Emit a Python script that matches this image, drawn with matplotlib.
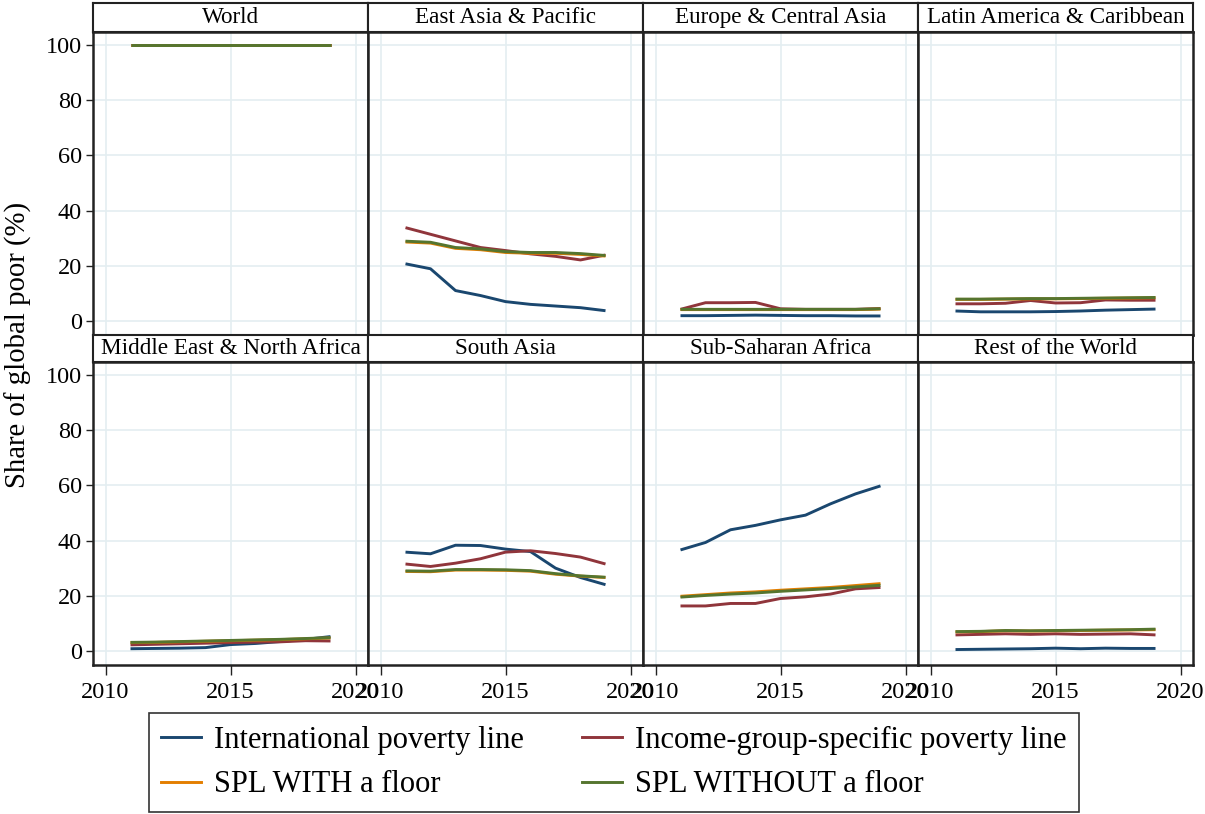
import matplotlib
matplotlib.use("Agg")
import matplotlib.pyplot as plt
from matplotlib.lines import Line2D

plt.rcParams['font.family'] = ['Liberation Serif', 'DejaVu Serif']

years = [2011, 2012, 2013, 2014, 2015, 2016, 2017, 2018, 2019]

regions = ["World", "East Asia & Pacific", "Europe & Central Asia",
           "Latin America & Caribbean", "Middle East & North Africa",
           "South Asia", "Sub-Saharan Africa", "Rest of the World"]

# share of global poor (%) by region, one list per poverty line
ipl = {
    "World": [100, 100, 100, 100, 100, 100, 100, 100, 100],
    "East Asia & Pacific": [20.7, 18.9, 11.0, 9.2, 7.0, 6.0, 5.4, 4.8, 3.7],
    "Europe & Central Asia": [1.9, 1.9, 2.0, 2.1, 2.0, 1.9, 1.9, 1.8, 1.8],
    "Latin America & Caribbean": [3.6, 3.3, 3.3, 3.3, 3.4, 3.6, 3.9, 4.1, 4.3],
    "Middle East & North Africa": [0.8, 0.9, 1.0, 1.2, 2.3, 2.7, 3.4, 4.2, 5.2],
    "South Asia": [35.8, 35.2, 38.3, 38.2, 36.9, 36.0, 30.0, 26.6, 24.0],
    "Sub-Saharan Africa": [36.6, 39.3, 43.9, 45.5, 47.5, 49.2, 53.3, 56.9, 59.8],
    "Rest of the World": [0.5, 0.6, 0.7, 0.8, 1.0, 0.8, 1.0, 0.9, 0.9],
}
igspl = {
    "World": [100, 100, 100, 100, 100, 100, 100, 100, 100],
    "East Asia & Pacific": [33.8, 31.4, 29.0, 26.6, 25.5, 24.3, 23.4, 22.1, 23.9],
    "Europe & Central Asia": [4.2, 6.6, 6.6, 6.7, 4.4, 4.2, 4.2, 4.2, 4.5],
    "Latin America & Caribbean": [6.2, 6.2, 6.4, 7.4, 6.5, 6.6, 7.6, 7.5, 7.5],
    "Middle East & North Africa": [2.2, 2.4, 2.6, 2.8, 3.0, 3.2, 3.3, 3.7, 3.6],
    "South Asia": [31.5, 30.6, 31.8, 33.4, 35.8, 36.3, 35.3, 34.0, 31.5],
    "Sub-Saharan Africa": [16.3, 16.3, 17.2, 17.2, 19.0, 19.6, 20.6, 22.5, 23.0],
    "Rest of the World": [5.8, 6.0, 6.2, 6.0, 6.2, 6.0, 6.1, 6.2, 5.8],
}
spl_floor = {
    "World": [100, 100, 100, 100, 100, 100, 100, 100, 100],
    "East Asia & Pacific": [28.6, 28.2, 26.3, 25.8, 24.8, 24.5, 24.5, 24.1, 23.5],
    "Europe & Central Asia": [4.1, 4.1, 4.1, 4.1, 4.1, 4.1, 4.1, 4.1, 4.3],
    "Latin America & Caribbean": [7.8, 7.8, 7.9, 8.0, 8.0, 8.1, 8.2, 8.3, 8.4],
    "Middle East & North Africa": [3.0, 3.1, 3.3, 3.5, 3.7, 3.9, 4.1, 4.4, 4.7],
    "South Asia": [28.8, 28.7, 29.3, 29.3, 29.2, 28.9, 27.8, 27.1, 26.6],
    "Sub-Saharan Africa": [19.8, 20.4, 21.0, 21.4, 22.0, 22.5, 23.0, 23.7, 24.4],
    "Rest of the World": [6.9, 7.0, 7.3, 7.2, 7.3, 7.4, 7.5, 7.6, 7.7],
}
spl_nofloor = {
    "World": [100, 100, 100, 100, 100, 100, 100, 100, 100],
    "East Asia & Pacific": [28.9, 28.5, 26.6, 26.1, 25.1, 24.8, 24.8, 24.4, 23.7],
    "Europe & Central Asia": [4.2, 4.2, 4.2, 4.2, 4.2, 4.2, 4.2, 4.2, 4.4],
    "Latin America & Caribbean": [7.9, 7.9, 8.0, 8.1, 8.1, 8.2, 8.3, 8.4, 8.5],
    "Middle East & North Africa": [3.1, 3.2, 3.4, 3.6, 3.8, 4.0, 4.2, 4.5, 4.8],
    "South Asia": [29.0, 28.9, 29.5, 29.5, 29.4, 29.1, 28.0, 27.2, 26.7],
    "Sub-Saharan Africa": [19.5, 20.1, 20.6, 21.0, 21.6, 22.1, 22.6, 23.2, 23.8],
    "Rest of the World": [7.0, 7.1, 7.4, 7.3, 7.4, 7.5, 7.6, 7.7, 7.9],
}

series = [
    ("International poverty line", ipl, "#1a476f"),
    ("Income-group-specific poverty line", igspl, "#90353b"),
    ("SPL WITH a floor", spl_floor, "#e37e00"),
    ("SPL WITHOUT a floor", spl_nofloor, "#55752f"),
]

W, H = 1205, 814
fig = plt.figure(figsize=(W / 100, H / 100), dpi=100)


def box(x0, y0, x1, y1):
    # pixel box (top-left origin) -> figure fraction rect
    return [x0 / W, 1 - y1 / H, (x1 - x0) / W, (y1 - y0) / H]


col_x = [93, 368, 643, 918, 1193]
rows = [(3, 32, 335), (335, 362, 665)]
frame = "#222222"

for i, reg in enumerate(regions):
    r, c = divmod(i, 4)
    s_top, p_top, p_bot = rows[r]
    x0, x1 = col_x[c], col_x[c + 1]

    # strip with the region name
    sax = fig.add_axes(box(x0, s_top, x1, p_top))
    sax.set_xticks([])
    sax.set_yticks([])
    for sp in sax.spines.values():
        sp.set_color(frame)
        sp.set_linewidth(1.5)
    sax.text(0.5, 0.5, reg, ha="center", va="center", fontsize=16.7,
             transform=sax.transAxes)

    ax = fig.add_axes(box(x0, p_top, x1, p_bot))
    for name, data, color in series:
        ax.plot(years, data[reg], color=color, lw=2.1, solid_capstyle="butt")

    ax.set_xlim(2009.5, 2020.5)
    ax.set_ylim(-5.1, 104.7)
    ax.set_xticks([2010, 2015, 2020])
    ax.set_yticks([0, 20, 40, 60, 80, 100])
    ax.grid(True, color="#e4eef1", lw=1.2)
    ax.set_axisbelow(True)
    for sp in ax.spines.values():
        sp.set_color(frame)
        sp.set_linewidth(1.8)

    ax.tick_params(axis="y", direction="out", length=5, width=1,
                   labelsize=17.5, pad=3, colors=frame, labelcolor="black",
                   left=(c == 0), labelleft=(c == 0))
    ax.tick_params(axis="x", direction="out", length=7, width=1,
                   labelsize=17.5, pad=5, colors=frame, labelcolor="black",
                   bottom=(r == 1), labelbottom=(r == 1))

fig.text(18 / W, 1 - 345 / H, "Share of global poor (%)", rotation=90,
         ha="center", va="center", fontsize=20.7)

# legend filled row by row: matplotlib fills columns first, so reorder
order = [0, 2, 1, 3]
handles = [Line2D([], [], color=series[k][2], lw=2.1) for k in order]
labels = [series[k][0] for k in order]
leg = fig.legend(handles, labels, ncol=2, loc="center",
                 bbox_to_anchor=(614 / W, 1 - 762.5 / H), fontsize=22,
                 frameon=True, fancybox=False, edgecolor="black",
                 handlelength=1.3, handletextpad=0.43, columnspacing=1.9,
                 labelspacing=0.52, borderpad=0.42)
leg.get_frame().set_linewidth(1.2)

fig.savefig("out.png", dpi=100)
